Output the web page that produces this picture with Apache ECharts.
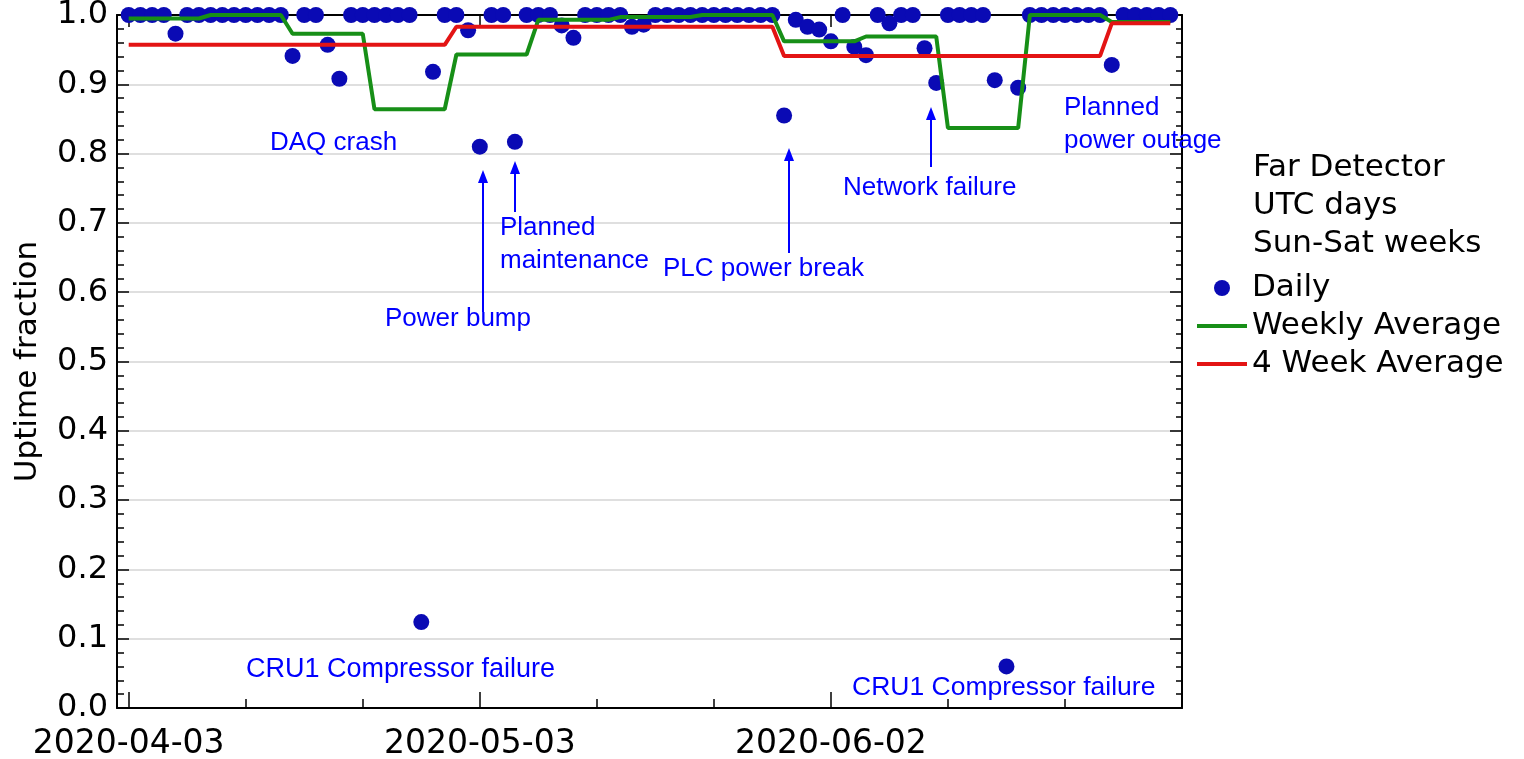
<!DOCTYPE html>
<html>
<head>
<meta charset="utf-8">
<script src="https://cdn.jsdelivr.net/npm/echarts@6/dist/echarts.min.js"></script>
<style>
html,body{margin:0;padding:0;background:#fff;}
#chart{width:1524px;height:759px;}
</style>
</head>
<body>
<div id="chart"></div>
<script>
// ---- Data ----
const startDate = '2020-04-03';
// Daily uptime fraction, one value per UTC day starting 2020-04-03 (day index 0)
const dailyUptime = [
  1, 1, 1, 1, 0.973, 1, 1, 1, 1, 1,
  1, 1, 1, 1, 0.941, 1, 1, 0.957, 0.908, 1,
  1, 1, 1, 1, 1, 0.124, 0.918, 1, 1, 0.978,
  0.81, 1, 1, 0.817, 1, 1, 1, 0.985, 0.967, 1,
  1, 1, 1, 0.983, 0.986, 1, 1, 1, 1, 1,
  1, 1, 1, 1, 1, 1, 0.855, 0.993, 0.983, 0.979,
  0.962, 1, 0.954, 0.942, 1, 0.988, 1, 1, 0.952, 0.902,
  1, 1, 1, 1, 0.906, 0.06, 0.895, 1, 1, 1,
  1, 1, 1, 1, 0.928, 1, 1, 1, 1, 1
];
// Weekly averages (first and last day index of each week, value)
const weekStartDay = [0, 7, 14, 21, 28, 35, 42, 49, 56, 63, 70, 77, 84];
const weekEndDay   = [6, 13, 20, 27, 34, 41, 48, 55, 62, 69, 76, 83, 89];
const weeklyAvg    = [0.995, 1.0, 0.973, 0.864, 0.943, 0.993, 0.997, 1.0, 0.962, 0.969, 0.837, 1.0, 0.99];
// 4-week averages
const fourWeekStartDay = [0, 28, 56, 84];
const fourWeekEndDay   = [27, 55, 83, 89];
const fourWeekAvg      = [0.957, 0.983, 0.941, 0.988];
// Axis ticks
const majorTickDays = [0, 30, 60];
const majorTickLabels = ['2020-04-03', '2020-05-03', '2020-06-02'];
const minorTickDays = [10, 20, 40, 50, 70, 80];
const seriesNames = ['Daily', 'Weekly Average', '4 Week Average'];
const infoLines = ['Far Detector', 'UTC days', 'Sun-Sat weeks'];

// ---- Build series data ----
const dailyData = dailyUptime.map((v, i) => [i, v]);
function stepData(starts, ends, vals) {
  const out = [];
  for (let k = 0; k < vals.length; k++) {
    out.push([starts[k], vals[k]]);
    out.push([ends[k], vals[k]]);
  }
  return out;
}
const weeklyData = stepData(weekStartDay, weekEndDay, weeklyAvg);
const fourWeekData = stepData(fourWeekStartDay, fourWeekEndDay, fourWeekAvg);

const FONT = 'DejaVu Sans';
const AFONT = 'Liberation Sans';
const BLUE_TXT = '#0000ff';
const DOT = '#0a0ab4';
const GREEN = '#178f17';
const RED = '#e31414';

// annotations (pixel layout)
const annoTexts = [
  {t: 'DAQ crash', x: 270, y: 143, s: 26},
  {t: 'Power bump', x: 385, y: 319, s: 26},
  {t: 'Planned', x: 500, y: 228, s: 26},
  {t: 'maintenance', x: 500, y: 261, s: 26},
  {t: 'PLC power break', x: 663, y: 269, s: 26},
  {t: 'Network failure', x: 843, y: 188, s: 26},
  {t: 'Planned', x: 1064, y: 108, s: 26},
  {t: 'power outage', x: 1064, y: 141, s: 26},
  {t: 'CRU1 Compressor failure', x: 246, y: 670, s: 27},
  {t: 'CRU1 Compressor failure', x: 852, y: 688, s: 26.5}
];
const arrows = [
  {x: 483, tail: 312, tip: 170},
  {x: 515, tail: 212, tip: 161},
  {x: 789, tail: 253, tip: 148},
  {x: 931, tail: 167, tip: 107}
];

const graphics = [];
annoTexts.forEach(a => {
  graphics.push({
    type: 'text', x: a.x, y: a.y, z: 100,
    style: {text: a.t, fill: BLUE_TXT, font: a.s + 'px "' + AFONT + '"', align: 'left', verticalAlign: 'middle'}
  });
});
arrows.forEach(a => {
  graphics.push({
    type: 'line', z: 100,
    shape: {x1: a.x, y1: a.tail, x2: a.x, y2: a.tip + 10},
    style: {stroke: BLUE_TXT, lineWidth: 2}
  });
  graphics.push({
    type: 'polygon', z: 100,
    shape: {points: [[a.x, a.tip], [a.x - 5, a.tip + 13], [a.x + 5, a.tip + 13]]},
    style: {fill: BLUE_TXT}
  });
});
const infoY = [168, 206, 244];
infoLines.forEach((t, i) => {
  graphics.push({
    type: 'text', left: 1253, top: infoY[i] - 16, z: 100,
    style: {text: t, fill: '#000', font: '31px "' + FONT + '"'}
  });
});

const lineIcon = 'path://M0,0 L50,0 L50,4 L0,4 Z';
const axisLineStyle = {color: '#000', width: 2};
const chart = echarts.init(document.getElementById('chart'), null, {renderer: 'canvas'});
chart.setOption({
  animation: false,
  backgroundColor: '#fff',
  grid: {left: 117, right: 342, top: 15, bottom: 51, containLabel: false, outerBoundsMode: 'none'},
  legend: {
    orient: 'vertical', left: 1192, top: 267,
    itemWidth: 50, itemHeight: 16, itemGap: 6,
    data: [
      {name: seriesNames[0], icon: 'circle'},
      {name: seriesNames[1], icon: lineIcon},
      {name: seriesNames[2], icon: lineIcon}
    ],
    textStyle: {fontFamily: FONT, fontSize: 31, color: '#000', lineHeight: 32}
  },
  xAxis: [
    {
      type: 'value', position: 'bottom', min: -1, max: 90,
      axisLine: {show: true, onZero: false, lineStyle: axisLineStyle},
      axisTick: {show: true, inside: true, length: 16, customValues: majorTickDays, lineStyle: {color: '#000', width: 1.5}},
      axisLabel: {
        show: true, customValues: majorTickDays, margin: 20,
        fontFamily: FONT, fontSize: 33, color: '#000',
        formatter: v => majorTickLabels[majorTickDays.indexOf(Math.round(v))] || ''
      },
      splitLine: {show: false}
    },
    {
      type: 'value', position: 'top', min: -1, max: 90,
      axisLine: {show: true, onZero: false, lineStyle: axisLineStyle},
      axisTick: {show: true, inside: true, length: 12, customValues: majorTickDays, lineStyle: {color: '#000', width: 1.5}},
      axisLabel: {show: false},
      splitLine: {show: false}
    },
    {
      type: 'value', position: 'bottom', min: -1, max: 90,
      axisLine: {show: false, onZero: false},
      axisTick: {show: true, inside: true, length: 9, customValues: minorTickDays, lineStyle: {color: '#000', width: 1.5}},
      axisLabel: {show: false},
      splitLine: {show: false}
    }
  ],
  yAxis: [
    {
      type: 'value', position: 'left', min: 0, max: 1, interval: 0.1,
      name: 'Uptime fraction', nameLocation: 'middle', nameGap: 74,
      nameTextStyle: {fontFamily: FONT, fontSize: 31, color: '#000'},
      axisLine: {show: true, onZero: false, lineStyle: axisLineStyle},
      axisTick: {show: true, inside: true, length: 12, lineStyle: {color: '#000', width: 1.5}},
      minorTick: {show: true, splitNumber: 5, length: 7, lineStyle: {color: '#000', width: 1.5}},
      axisLabel: {margin: 9, fontFamily: FONT, fontSize: 32, color: '#000', formatter: v => v.toFixed(1)},
      splitLine: {show: true, lineStyle: {color: '#d4d4d4', width: 1.5}}
    },
    {
      type: 'value', position: 'right', min: 0, max: 1, interval: 0.1,
      axisLine: {show: true, onZero: false, lineStyle: axisLineStyle},
      axisTick: {show: true, inside: true, length: 12, lineStyle: {color: '#000', width: 1.5}},
      minorTick: {show: true, splitNumber: 5, length: 6, lineStyle: {color: '#000', width: 1.5}},
      axisLabel: {show: false},
      splitLine: {show: false}
    }
  ],
  series: [
    {
      name: seriesNames[0], type: 'scatter', xAxisIndex: 0, yAxisIndex: 0,
      data: dailyData, symbol: 'circle', symbolSize: 16, clip: false,
      itemStyle: {color: DOT, opacity: 1}, z: 3
    },
    {
      name: seriesNames[1], type: 'line', xAxisIndex: 0, yAxisIndex: 0,
      data: weeklyData, symbol: 'none', clip: false,
      lineStyle: {color: GREEN, width: 4}, itemStyle: {color: GREEN}, z: 4
    },
    {
      name: seriesNames[2], type: 'line', xAxisIndex: 0, yAxisIndex: 0,
      data: fourWeekData, symbol: 'none', clip: false,
      lineStyle: {color: RED, width: 4}, itemStyle: {color: RED}, z: 5
    }
  ],
  graphic: graphics
});
</script>
</body>
</html>
